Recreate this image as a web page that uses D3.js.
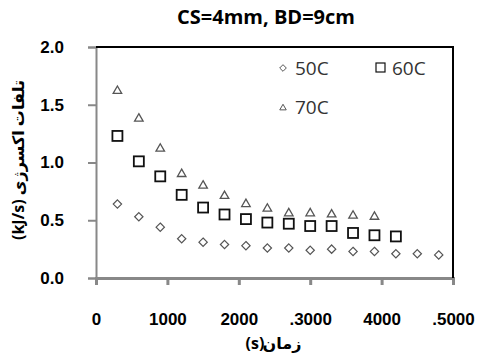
<!DOCTYPE html>
<html>
<head>
<meta charset="utf-8">
<script src="https://cdn.jsdelivr.net/npm/d3@7"></script>
<style>
  body { margin: 0; background: #fff; }
  svg { display: block; font-family: "Open Sans", "DejaVu Sans", sans-serif; }
</style>
</head>
<body>
<svg id="vis"></svg>
<script>
const WIDTH = 480;
const HEIGHT = 364;
const margin = {top: 47, right: 27, bottom: 86, left: 96};

const times50 = [300, 600, 900, 1200, 1500, 1800, 2100, 2400, 2700, 3000, 3300, 3600, 3900, 4200, 4500, 4800];
const vals50 = [0.64, 0.53, 0.44, 0.34, 0.31, 0.29, 0.28, 0.26, 0.26, 0.24, 0.25, 0.23, 0.23, 0.21, 0.21, 0.20];
const times60 = [300, 600, 900, 1200, 1500, 1800, 2100, 2400, 2700, 3000, 3300, 3600, 3900, 4200];
const vals60 = [1.23, 1.01, 0.88, 0.72, 0.61, 0.55, 0.51, 0.48, 0.47, 0.45, 0.45, 0.39, 0.37, 0.36];
const times70 = [300, 600, 900, 1200, 1500, 1800, 2100, 2400, 2700, 3000, 3300, 3600, 3900];
const vals70 = [1.62, 1.38, 1.12, 0.90, 0.80, 0.71, 0.64, 0.60, 0.56, 0.56, 0.55, 0.54, 0.53];

const xTicks = [0, 1000, 2000, 3000, 4000, 5000];
const xTickLabels = ["0", "1000", "2000", ".3000", "4000", ".5000"];
const yTicks = [0, 0.5, 1.0, 1.5, 2.0];

const svg = d3.select("#vis").attr("width", WIDTH).attr("height", HEIGHT);

const x = d3.scaleLinear().domain([0, 5000]).range([margin.left, WIDTH - margin.right]);
const y = d3.scaleLinear().domain([0, 2]).range([HEIGHT - margin.bottom, margin.top]);

// y axis
const yAxis = svg.append("g")
  .attr("transform", `translate(${x(0)},0)`)
  .call(d3.axisLeft(y).tickValues(yTicks).tickSize(8).tickPadding(24).tickFormat(d3.format(".1f")));
yAxis.select(".domain").attr("stroke", "#888").attr("stroke-width", 2);
yAxis.selectAll(".tick line").attr("stroke", "#888").attr("stroke-width", 2);
yAxis.selectAll("text").attr("fill", "#000").style("font-size", "17px").style("font-weight", "bold");

// x axis
const xAxis = svg.append("g")
  .attr("transform", `translate(0,${y(0)})`)
  .call(d3.axisBottom(x).tickValues(xTicks).tickSize(7).tickPadding(28)
    .tickFormat((d, i) => xTickLabels[i]));
xAxis.select(".domain").attr("stroke", "#888").attr("stroke-width", 3);
xAxis.selectAll(".tick line").attr("stroke", "#888").attr("stroke-width", 3);
xAxis.selectAll("text").attr("fill", "#000").style("font-size", "17px").style("font-weight", "bold");

// title
svg.append("text")
  .attr("x", 266).attr("y", 24)
  .attr("text-anchor", "middle")
  .style("font-size", "20px").style("font-weight", "bold")
  .text("CS=4mm, BD=9cm");

// x axis title: "(s)" on the left, Persian word on the right
svg.append("text").attr("x", 255).attr("y", 349).attr("text-anchor", "middle")
  .style("font-size", "16px").style("font-weight", "bold").text("(s)");
svg.append("text").attr("x", 282).attr("y", 349).attr("text-anchor", "middle")
  .style("font-size", "16px").style("font-weight", "bold").text("زمان");

svg.append("text")
  .attr("transform", `translate(24,160) rotate(-90)`)
  .attr("text-anchor", "middle")
  .attr("direction", "ltr")
  .style("font-size", "16px").style("font-weight", "bold")
  .text("(kJ/s) تلفات اکسرژی");

// markers
const diamond = d3.symbol().type(d3.symbolDiamond2).size(44);
const tri = d3.symbol().type(d3.symbolTriangle2).size(52);

svg.append("g").selectAll("path")
  .data(d3.zip(times50, vals50))
  .join("path")
  .attr("transform", d => `translate(${x(d[0])},${y(d[1])})`)
  .attr("d", diamond)
  .attr("fill", "none").attr("stroke", "#555").attr("stroke-width", 1.2);

svg.append("g").selectAll("rect")
  .data(d3.zip(times60, vals60))
  .join("rect")
  .attr("x", d => x(d[0]) - 5).attr("y", d => y(d[1]) - 5)
  .attr("width", 10).attr("height", 10)
  .attr("fill", "none").attr("stroke", "#111").attr("stroke-width", 1.8);

svg.append("g").selectAll("path")
  .data(d3.zip(times70, vals70))
  .join("path")
  .attr("transform", d => `translate(${x(d[0])},${y(d[1])})`)
  .attr("d", tri)
  .attr("fill", "none").attr("stroke", "#555").attr("stroke-width", 1.3);

// legend
const legend = svg.append("g").style("font-size", "19px").attr("fill", "#333");
legend.append("path").attr("transform", "translate(283,68)").attr("d", d3.symbol().type(d3.symbolDiamond2).size(28))
  .attr("fill", "none").attr("stroke", "#555");
legend.append("text").attr("x", 295).attr("y", 75).text("50C");
legend.append("rect").attr("x", 376).attr("y", 63).attr("width", 9).attr("height", 9)
  .attr("fill", "none").attr("stroke", "#111").attr("stroke-width", 1.2);
legend.append("text").attr("x", 392).attr("y", 75).text("60C");
legend.append("path").attr("transform", "translate(283,108)").attr("d", d3.symbol().type(d3.symbolTriangle2).size(30))
  .attr("fill", "none").attr("stroke", "#555");
legend.append("text").attr("x", 295).attr("y", 114).text("70C");

// top and right border of the plot area, traced through the scales
const frameLine = d3.line().x(d => x(d[0])).y(d => y(d[1]));
svg.append("path")
  .datum([[0, 2], [5000, 2], [5000, 0]])
  .attr("d", frameLine)
  .attr("fill", "none")
  .attr("stroke", "#000")
  .attr("stroke-width", 2);
</script>
</body>
</html>
